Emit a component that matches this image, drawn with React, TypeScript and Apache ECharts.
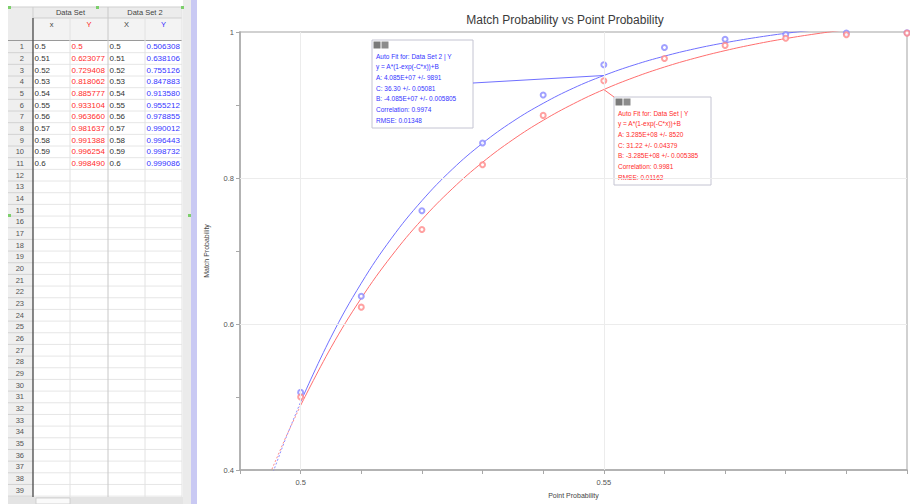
import React, { useEffect, useRef } from "react";
import * as echarts from "echarts";

const xValues = [0.5, 0.51, 0.52, 0.53, 0.54, 0.55, 0.56, 0.57, 0.58, 0.59, 0.6];
const dataSetY = [0.5, 0.623077, 0.729408, 0.818062, 0.885777, 0.933104, 0.96366, 0.981637, 0.991388, 0.996254, 0.99849];
const dataSet2Y = [0.506308, 0.638106, 0.755126, 0.847883, 0.91358, 0.955212, 0.978855, 0.990012, 0.996443, 0.998732, 0.999086];

// fitted curves
const fitX = [0.5, 0.505, 0.51, 0.515, 0.52, 0.525, 0.53, 0.535, 0.54, 0.545, 0.55, 0.555, 0.56, 0.565, 0.57, 0.575, 0.58, 0.585, 0.59, 0.595, 0.6];
const fitRed = [0.4885, 0.5676, 0.6354, 0.6933, 0.7429, 0.7852, 0.8215, 0.8525, 0.879, 0.9017, 0.9212, 0.9378, 0.952, 0.9641, 0.9745, 0.9834, 0.991, 0.9975, 1.0031, 1.0079, 1.012];
const fitBlue = [0.4933, 0.5819, 0.6559, 0.7176, 0.7689, 0.8119, 0.8476, 0.8775, 0.9023, 0.9232, 0.9404, 0.9549, 0.9669, 0.977, 0.9853, 0.9923, 0.9982, 1.003, 1.0071, 1.0104, 1.0133];
const extX = [0.495, 0.4975, 0.5];
const extRed = [0.396, 0.444, 0.4885];
const extBlue = [0.387, 0.4425, 0.4933];

const xTickLabels = ["0.5", "0.55"];
const yTickLabels = ["0.4", "0.6", "0.8", "1"];
const xGridLines = [0.5, 0.55];
const yGridLines = [0.6, 0.8];

const blueFitText = [
  "Auto Fit for: Data Set 2 | Y",
  "y = A*(1-exp(-C*x))+B",
  "A: 4.085E+07 +/- 9891",
  "C: 36.30 +/- 0.05081",
  "B: -4.085E+07 +/- 0.005805",
  "Correlation: 0.9974",
  "RMSE: 0.01348",
];
const redFitText = [
  "Auto Fit for: Data Set | Y",
  "y = A*(1-exp(-C*x))+B",
  "A: 3.285E+08 +/- 8520",
  "C: 31.22 +/- 0.04379",
  "B: -3.285E+08 +/- 0.005385",
  "Correlation: 0.9981",
  "RMSE: 0.01162",
];

const RED = "#ff6e6e";
const BLUE = "#7070ff";
const RED_TXT = "#ff2b2b";
const BLUE_TXT = "#3535ff";
const FONT = '"Liberation Sans", Arial, sans-serif';

function fmtY(v: number) {
  return v === 0.5 ? "0.5" : v.toFixed(6);
}

function buildSheet(): any[] {
  const els: any[] = [];
  const colX = [33, 70, 108, 145, 182];
  const rowH = 11.67;
  const top0 = 41;
  const nRows = 39;
  // backgrounds
  els.push({ type: "rect", shape: { x: 0, y: 0, width: 197, height: 504 }, style: { fill: "#ffffff" }, silent: true });
  els.push({ type: "rect", shape: { x: 8, y: 7, width: 25, height: 497 }, style: { fill: "#efefef" }, silent: true });
  els.push({ type: "rect", shape: { x: 8, y: 7, width: 174, height: 34 }, style: { fill: "#ececec" }, silent: true });
  els.push({ type: "rect", shape: { x: 33, y: 18, width: 149, height: 23 }, style: { fill: "#f3f3f3" }, silent: true });
  // splitter
  els.push({ type: "rect", shape: { x: 183, y: 0, width: 8, height: 504 }, style: { fill: "#ebebeb" }, silent: true });
  els.push({ type: "rect", shape: { x: 191, y: 0, width: 6, height: 504 }, style: { fill: "#c9c9f3" }, silent: true });
  // header lines
  els.push({ type: "line", shape: { x1: 8, y1: 7, x2: 182, y2: 7 }, style: { stroke: "#cfcfcf", lineWidth: 1 }, silent: true });
  els.push({ type: "line", shape: { x1: 33, y1: 18, x2: 182, y2: 18 }, style: { stroke: "#cfcfcf", lineWidth: 1 }, silent: true });
  els.push({ type: "line", shape: { x1: 8, y1: 40.5, x2: 182, y2: 40.5 }, style: { stroke: "#9a9a9a", lineWidth: 1.2 }, silent: true });
  // rows
  for (let i = 0; i < nRows; i++) {
    const yTop = top0 + i * rowH;
    const yb = yTop + rowH;
    els.push({ type: "line", shape: { x1: 8, y1: yb, x2: 33, y2: yb }, style: { stroke: "#d2d2d2", lineWidth: 1 }, silent: true });
    els.push({ type: "line", shape: { x1: 33, y1: yb, x2: 182, y2: yb }, style: { stroke: "#e6e6e6", lineWidth: 1 }, silent: true });
    els.push({
      type: "text",
      silent: true,
      style: { text: String(i + 1), x: 24, y: yTop + rowH / 2, textAlign: "right", textVerticalAlign: "middle", fill: "#555", font: `7.5px ${FONT}` },
    });
  }
  // column lines
  colX.forEach((cx, k) => {
    els.push({
      type: "line",
      shape: { x1: cx, y1: k === 2 || k === 4 ? 7 : 18, x2: cx, y2: 504 },
      style: { stroke: k === 0 ? "#555" : k === 2 ? "#c8c8c8" : "#e2e2e2", lineWidth: k === 0 ? 1.4 : 1 },
      silent: true,
    });
  });
  els.push({ type: "line", shape: { x1: 33, y1: 7, x2: 33, y2: 18 }, style: { stroke: "#cfcfcf", lineWidth: 1 }, silent: true });
  // group headers
  els.push({ type: "text", silent: true, style: { text: "Data Set", x: 70.5, y: 12.5, textAlign: "center", textVerticalAlign: "middle", fill: "#444", font: `7.5px ${FONT}` } });
  els.push({ type: "text", silent: true, style: { text: "Data Set 2", x: 145, y: 12.5, textAlign: "center", textVerticalAlign: "middle", fill: "#444", font: `7.5px ${FONT}` } });
  const heads = [
    { t: "x", c: "#444", x: 51.5 },
    { t: "Y", c: "#ff2020", x: 89 },
    { t: "X", c: "#444", x: 126.5 },
    { t: "Y", c: "#2a2aff", x: 163.5 },
  ];
  heads.forEach((h) =>
    els.push({ type: "text", silent: true, style: { text: h.t, x: h.x, y: 24.5, textAlign: "center", textVerticalAlign: "middle", fill: h.c, font: `7.5px ${FONT}` } })
  );
  // green handles
  [[8, 6], [96, 6], [181, 6], [8, 214], [188, 214]].forEach(([gx, gy]) =>
    els.push({ type: "rect", silent: true, shape: { x: gx, y: gy, width: 3, height: 3 }, style: { fill: "#7ccf6b" } })
  );
  // cell values
  xValues.forEach((xv, i) => {
    const cy = top0 + i * rowH + rowH / 2;
    const vals = [
      { t: String(xv), c: "#333" },
      { t: fmtY(dataSetY[i]), c: RED_TXT },
      { t: String(xv), c: "#333" },
      { t: fmtY(dataSet2Y[i]), c: BLUE_TXT },
    ];
    vals.forEach((v, k) =>
      els.push({
        type: "text",
        silent: true,
        style: { text: v.t, x: colX[k] + 1.5, y: cy, textAlign: "left", textVerticalAlign: "middle", fill: v.c, font: `8px ${FONT}` },
      })
    );
  });
  // bottom strip
  els.push({ type: "rect", silent: true, shape: { x: 8, y: 497, width: 175, height: 7 }, style: { fill: "#e4e4e4" } });
  els.push({ type: "rect", silent: true, shape: { x: 36, y: 498, width: 34, height: 6 }, style: { fill: "#fafafa", stroke: "#c8c8c8", lineWidth: 0.8 } });
  return els;
}

function buildBox(x: number, y: number, w: number, h: number, lines: string[], color: string): any {
  const children: any[] = [
    { type: "rect", shape: { x: 0, y: 0, width: w, height: h }, style: { fill: "#ffffff", stroke: "#c4c4d2", lineWidth: 1 } },
    { type: "rect", shape: { x: 1.5, y: 1.5, width: 7, height: 7 }, style: { fill: "#7a7a7a" } },
    { type: "rect", shape: { x: 9.5, y: 1.5, width: 7, height: 7 }, style: { fill: "#8c8c8c" } },
  ];
  lines.forEach((t, i) =>
    children.push({
      type: "text",
      style: { text: t, x: 4, y: 16 + i * 10.7, textAlign: "left", textVerticalAlign: "middle", fill: color, font: `6.5px ${FONT}` },
    })
  );
  return { type: "group", x, y, z: 100, silent: true, children };
}

export default function App() {
  const ref = useRef<HTMLDivElement>(null);

  useEffect(() => {
    if (!ref.current) return;
    const chart = echarts.init(ref.current, null, { renderer: "svg" });
    const pairs = (xs: number[], ys: number[]) => xs.map((x, i) => [x, ys[i]]);
    const labelFor = (list: string[]) => (v: number) => {
      const hit = list.find((s) => Math.abs(Number(s) - v) < 1e-6);
      return hit ?? "";
    };

    const option: any = {
      animation: false,
      backgroundColor: "#ffffff",
      title: {
        text: "Match Probability vs Point Probability",
        left: 560,
        top: 9,
        textAlign: "center",
        textStyle: { fontFamily: FONT, fontSize: 12, fontWeight: "normal", color: "#3a3a3a" },
      },
      grid: { left: 240, right: 2, top: 32, bottom: 30, show: true, borderColor: "#c2c2c2", borderWidth: 1.5, backgroundColor: "transparent" },
      xAxis: {
        type: "value",
        min: 0.49,
        max: 0.6,
        interval: 0.01,
        name: "Point Probability",
        nameLocation: "middle",
        nameGap: 22,
        nameTextStyle: { fontFamily: FONT, fontSize: 7, color: "#444" },
        axisLine: { lineStyle: { color: "#a8a8a8", width: 1.5 } },
        axisTick: { show: true, length: 4, lineStyle: { color: "#a8a8a8" } },
        axisLabel: { formatter: labelFor(xTickLabels), fontFamily: FONT, fontSize: 7.5, color: "#555", margin: 8 },
        splitLine: { show: false },
      },
      yAxis: {
        type: "value",
        min: 0.4,
        max: 1,
        interval: 0.1,
        name: "Match Probability",
        nameLocation: "middle",
        nameGap: 30,
        nameRotate: 90,
        nameTextStyle: { fontFamily: FONT, fontSize: 7, color: "#444" },
        axisLine: { show: true, lineStyle: { color: "#a8a8a8", width: 1.5 } },
        axisTick: { show: true, length: 4, lineStyle: { color: "#a8a8a8" } },
        axisLabel: { formatter: labelFor(yTickLabels), fontFamily: FONT, fontSize: 7.5, color: "#555", margin: 6 },
        splitLine: { show: false },
      },
      series: [
        {
          type: "scatter",
          data: pairs(xValues, dataSetY),
          symbolSize: 0,
          silent: true,
          z: 0,
          markLine: {
            silent: true,
            symbol: ["none", "none"],
            label: { show: false },
            lineStyle: { color: "#ececec", type: "solid", width: 1 },
            data: [...xGridLines.map((v) => ({ xAxis: v })), ...yGridLines.map((v) => ({ yAxis: v }))],
          },
        },
        {
          type: "line",
          name: "Fit Data Set 2",
          data: pairs(extX, extBlue),
          showSymbol: false,
          lineStyle: { color: BLUE, width: 1, type: [2, 2], opacity: 0.8 },
          z: 2,
        },
        {
          type: "line",
          name: "Fit Data Set",
          data: pairs(extX, extRed),
          showSymbol: false,
          lineStyle: { color: RED, width: 1, type: [2, 2], opacity: 0.8 },
          z: 2,
        },
        {
          type: "line",
          name: "Fit Data Set 2",
          data: pairs(fitX, fitBlue),
          showSymbol: false,
          smooth: 0.4,
          lineStyle: { color: BLUE, width: 1 },
          z: 3,
        },
        {
          type: "line",
          name: "Fit Data Set",
          data: pairs(fitX, fitRed),
          showSymbol: false,
          smooth: 0.4,
          lineStyle: { color: RED, width: 1 },
          z: 3,
        },
        {
          type: "scatter",
          name: "Data Set 2",
          data: pairs(xValues, dataSet2Y),
          symbol: "emptyCircle",
          symbolSize: 5,
          itemStyle: { color: "#8a8aff", borderWidth: 0.8 },
          z: 4,
        },
        {
          type: "scatter",
          name: "Data Set",
          data: pairs(xValues, dataSetY),
          symbol: "emptyCircle",
          symbolSize: 5,
          itemStyle: { color: "#ff8a8a", borderWidth: 0.8 },
          z: 4,
        },
      ],
    };
    chart.setOption(option);

    const i55 = fitX.findIndex((v) => Math.abs(v - 0.55) < 1e-9);
    const pb = chart.convertToPixel({ gridIndex: 0 }, [fitX[i55], fitBlue[i55]]) as number[];
    const pr = chart.convertToPixel({ gridIndex: 0 }, [fitX[i55], fitRed[i55]]) as number[];

    const blueBox = { x: 372, y: 40, w: 101, h: 88 };
    const redBox = { x: 614, y: 97, w: 97, h: 88 };

    const graphic: any[] = [
      ...buildSheet(),
      {
        type: "line",
        z: 99,
        silent: true,
        shape: { x1: blueBox.x + blueBox.w, y1: blueBox.y + 43, x2: pb[0], y2: pb[1] },
        style: { stroke: BLUE, lineWidth: 1 },
      },
      {
        type: "line",
        z: 99,
        silent: true,
        shape: { x1: redBox.x, y1: redBox.y, x2: pr[0], y2: pr[1] },
        style: { stroke: RED, lineWidth: 1 },
      },
      buildBox(blueBox.x, blueBox.y, blueBox.w, blueBox.h, blueFitText, BLUE_TXT),
      buildBox(redBox.x, redBox.y, redBox.w, redBox.h, redFitText, RED_TXT),
    ];
    chart.setOption({ graphic });

    return () => chart.dispose();
  }, []);

  return <div ref={ref} style={{ position: "fixed", left: 0, top: 0, width: 910, height: 504 }} />;
}
